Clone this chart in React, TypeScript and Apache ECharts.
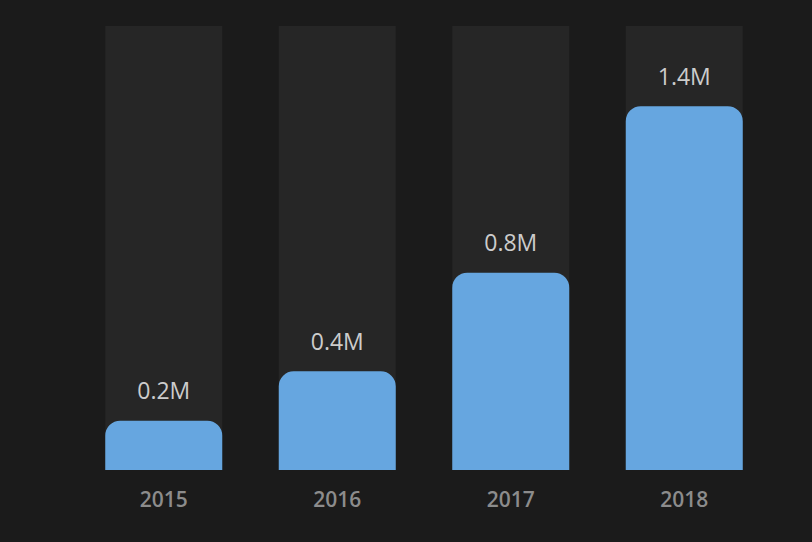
import React, { useEffect, useRef } from "react";
import * as echarts from "echarts";

const categories = ["2015", "2016", "2017", "2018"];
const values = [0.2, 0.4, 0.8, 1.475];
const valueLabels = ["0.2M", "0.4M", "0.8M", "1.4M"];
const axisMax = 1.8;

export default function App() {
  const ref = useRef<HTMLDivElement>(null);
  useEffect(() => {
    if (!ref.current) return;
    const chart = echarts.init(ref.current, null, { renderer: "svg" });
    chart.setOption({
      animation: false,
      backgroundColor: "#1b1b1b",
      grid: { left: 77, right: 41, top: 26, bottom: 72 },
      xAxis: {
        type: "category",
        data: categories,
        axisLine: { show: false },
        axisTick: { show: false },
        axisLabel: {
          color: "#8c8c8c",
          fontSize: 21,
          fontWeight: 600,
          fontFamily: "Open Sans",
          margin: 18,
        },
      },
      yAxis: {
        type: "value",
        min: 0,
        max: axisMax,
        show: false,
        splitLine: { show: false },
      },
      series: [
        {
          type: "bar",
          data: values,
          barWidth: 117,
          showBackground: true,
          backgroundStyle: { color: "#262626" },
          itemStyle: { color: "#66a6e0", borderRadius: [15, 15, 0, 0] },
          label: {
            show: true,
            position: "top",
            distance: 19,
            color: "#cccccc",
            fontSize: 23,
            fontFamily: "Open Sans",
            formatter: (p: any) => valueLabels[p.dataIndex],
          },
        },
      ],
    });
    return () => chart.dispose();
  }, []);
  return (
    <div
      ref={ref}
      style={{ position: "fixed", left: 0, top: 0, width: 812, height: 542 }}
    />
  );
}
